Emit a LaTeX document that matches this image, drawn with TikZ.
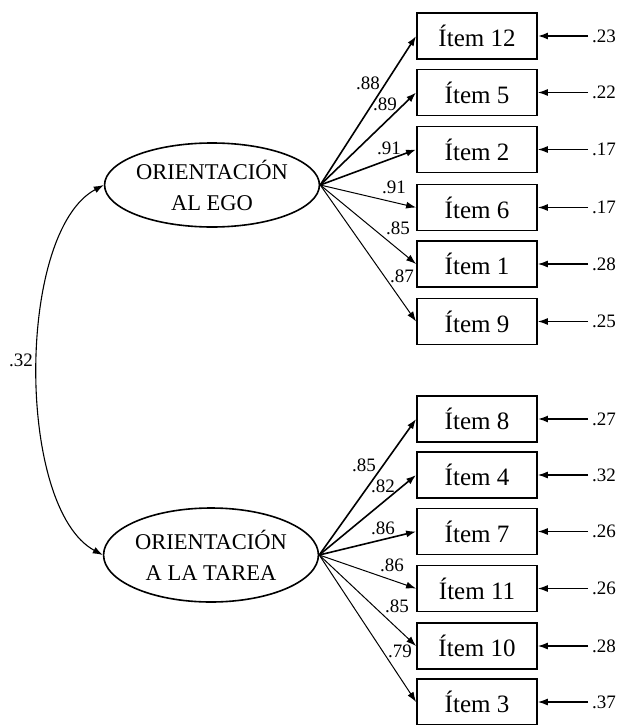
\documentclass[tikz,border=0pt]{standalone}
\usepackage{fontspec}
\setmainfont{Liberation Serif}
\usetikzlibrary{shapes.geometric,arrows.meta}
\begin{document}
\begin{tikzpicture}[x=1pt,y=-1pt,
 item/.style={draw,line width=1.8pt,minimum width=120pt,minimum height=46pt,inner sep=0pt,font=\fontsize{25}{28}\selectfont},
 latent/.style={draw,ellipse,line width=1.6pt,inner sep=0pt,align=center,font=\fontsize{22.5}{31}\selectfont},
 lab/.style={font=\fontsize{19}{21}\selectfont,inner sep=0pt},
 arr/.style={-{Latex[length=10pt,width=7pt]}},
 biarr/.style={{Latex[length=10pt,width=7pt]}-{Latex[length=10pt,width=7pt]},line width=1.1pt},
 loadA/.style={arr,line width=1.6pt},
 loadB/.style={arr,line width=1pt},
 errA/.style={arr,line width=1.7pt},
 errB/.style={arr,line width=1.1pt}
]
\useasboundingbox (0,0) rectangle (622,725);

% latent variables
\node[latent,minimum width=210pt,minimum height=84pt] (ego) at (212,185) {ORIENTACIÓN\\AL EGO};
\node[latent,minimum width=209pt,minimum height=94pt] (task) at (211,555) {ORIENTACIÓN\\A LA TAREA};

% items (ego)
\node[item] (i12) at (477,36) {Ítem 12};
\node[item] (i5) at (477,92.5) {Ítem 5};
\node[item] (i2) at (477,149.5) {Ítem 2};
\node[item] (i6) at (477,207.5) {Ítem 6};
\node[item] (i1) at (477,264) {Ítem 1};
\node[item] (i9) at (477,321.5) {Ítem 9};
% items (task)
\node[item] (i8) at (477,419) {Ítem 8};
\node[item] (i4) at (477,475) {Ítem 4};
\node[item] (i7) at (477,531.5) {Ítem 7};
\node[item] (i11) at (477,588.5) {Ítem 11};
\node[item] (i10) at (477,646) {Ítem 10};
\node[item] (i3) at (477,702) {Ítem 3};

% correlation
\draw[biarr] (ego.west) .. controls (16,232) and (16,508) .. (task.west);
\node[lab] (r) at (21,360) {.32};

% loadings ego
\draw[loadA] (ego.east) -- (i12.west);
\draw[loadA] (ego.east) -- (i5.west);
\draw[loadA] (ego.east) -- (i2.west);
\draw[loadB] (ego.east) -- (i6.west);
\draw[loadB] (ego.east) -- (i1.west);
\draw[loadB] (ego.east) -- (i9.west);
\node[lab] (l12) at (368,83) {.88};
\node[lab] (l5) at (385,104) {.89};
\node[lab] (l2) at (389,148) {.91};
\node[lab] (l6) at (394,187) {.91};
\node[lab] (l1) at (398,228) {.85};
\node[lab] (l9) at (402,276) {.87};

% loadings task
\draw[loadA] (task.east) -- (i8.west);
\draw[loadA] (task.east) -- (i4.west);
\draw[loadA] (task.east) -- (i7.west);
\draw[loadB] (task.east) -- (i11.west);
\draw[loadB] (task.east) -- (i10.west);
\draw[loadB] (task.east) -- (i3.west);
\node[lab] (l8) at (364,465) {.85};
\node[lab] (l4) at (383,486) {.82};
\node[lab] (l7) at (383,528) {.86};
\node[lab] (l11) at (392,565) {.86};
\node[lab] (l10) at (397,606) {.85};
\node[lab] (l3) at (400,651) {.79};

% errors
\foreach \n/\y/\v/\s in {i12/36/.23/errA, i5/92.5/.22/errB, i2/149.5/.17/errB, i6/207.5/.17/errB, i1/264/.28/errB, i9/321.5/.25/errB,
  i8/419/.27/errA, i4/475/.32/errB, i7/531.5/.26/errB, i11/588.5/.26/errB, i10/646/.28/errB, i3/702/.37/errB}{
  \coordinate (e\n) at (588,\y);
  \draw[\s] (e\n) -- (\n.east);
  \node[lab,anchor=west] (v\n) at ([xshift=4pt]e\n) {\v};
}
\end{tikzpicture}
\end{document}
